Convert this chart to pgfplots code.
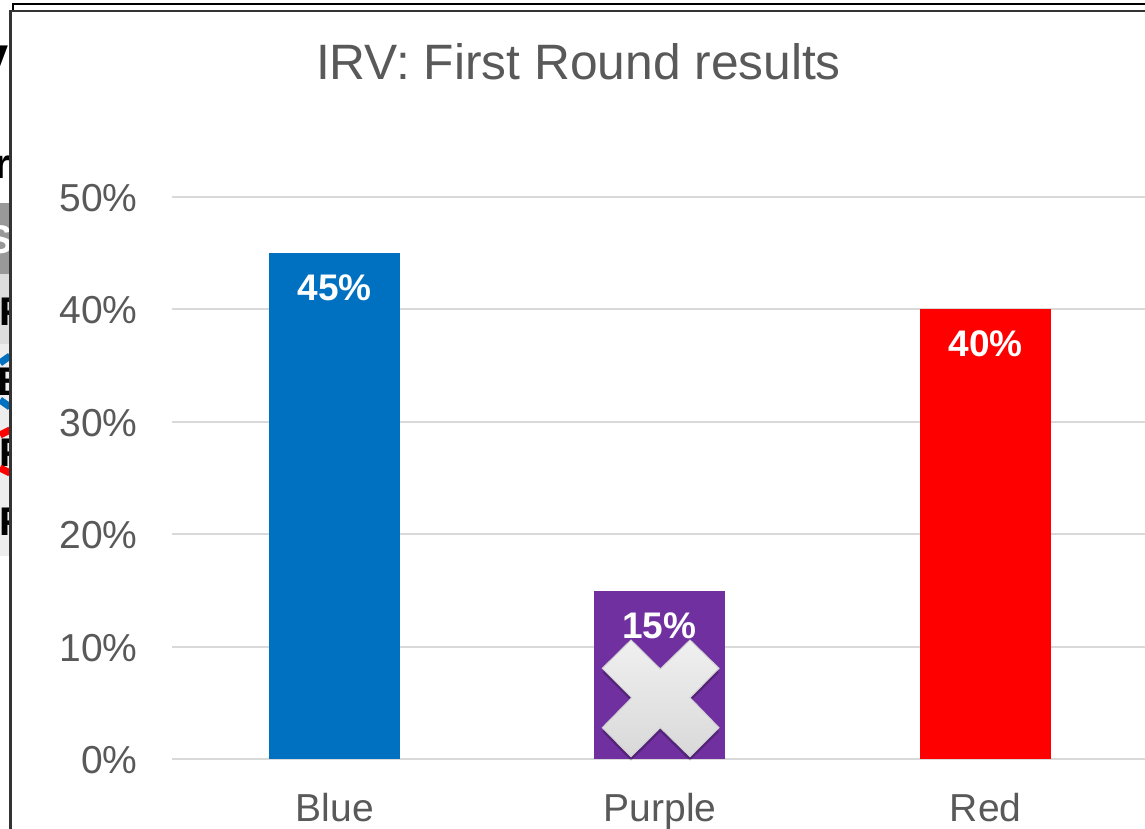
\documentclass[border=0pt]{standalone}
\usepackage{pgfplots}
\pgfplotsset{compat=1.18}
\usepackage{fontspec}
\setmainfont{Liberation Sans}
\definecolor{txt}{HTML}{595959}
\definecolor{gridc}{HTML}{D9D9D9}
\definecolor{bblue}{HTML}{0070C0}
\definecolor{bpurple}{HTML}{7030A0}
\definecolor{bred}{HTML}{FF0000}
\begin{document}
\begin{tikzpicture}[x=1pt,y=1pt]
\useasboundingbox (0,0) rectangle (1145,829);
\clip (0,0) rectangle (1145,829);
% slide fragments behind the chart panel (y measured from top: 829-y)
\begin{scope}
\clip (0,0) rectangle (10,829);
\fill[white] (0,0) rectangle (10,829);
\fill[black!40] (0,829-203) rectangle (10,829-274);
\fill[gridc!90!white] (0,829-274) rectangle (10,829-344);
\fill[black!7] (0,829-344) rectangle (10,829-556);
\node[text=white,font=\bfseries\fontsize{40}{40}\selectfont,anchor=base west,inner sep=0pt] at (-14,829-254) {S};
\node[font=\bfseries\fontsize{40}{40}\selectfont,anchor=base west,inner sep=0pt] at (-1,829-326) {F};
\node[font=\bfseries\fontsize{40}{40}\selectfont,anchor=base west,inner sep=0pt] at (-3,829-396) {B};
\node[font=\bfseries\fontsize{40}{40}\selectfont,anchor=base west,inner sep=0pt] at (-1,829-467) {F};
\node[font=\bfseries\fontsize{40}{40}\selectfont,anchor=base west,inner sep=0pt] at (-1,829-536) {F};
\draw[bblue,line width=7pt] (10,829-356) -- (0,829-363);
\draw[bblue,line width=7pt] (0,829-400) -- (10,829-407);
\draw[bred,line width=7pt] (10,829-430) -- (0,829-435);
\draw[bred,line width=7pt] (0,829-468) -- (10,829-473);
\node[font=\bfseries\fontsize{56}{56}\selectfont,anchor=base east,inner sep=0pt] at (9,829-76) {y};
\node[font=\bfseries\fontsize{42}{42}\selectfont,anchor=base east,inner sep=0pt] at (11,829-179) {r};
\end{scope}
% panel frames
\draw[black,line width=2.6pt] (13,829-11) -- (13,829-4) -- (1145,829-4);
\fill[white] (10.5,0) rectangle (1145,829-11);
\draw[black!80,line width=2.6pt] (10.5,0) -- (10.5,829-11) -- (1145,829-11);
\begin{axis}[
  at={(172pt,69.5pt)},anchor=south west,
  scale only axis,width=976.5pt,height=562.5pt,
  xmin=-0.5,xmax=2.5,ymin=0,ymax=50,
  axis line style={draw=none},
  ytick={0,10,20,30,40,50},
  yticklabels={0\%,10\%,20\%,30\%,40\%,50\%},
  xtick={0,1,2},xticklabels={Blue,Purple,Red},
  ymajorgrids,grid style={gridc,line width=2pt},
  major tick length=0pt,
  tick label style={text=txt,font=\fontsize{39}{39}\selectfont},
  yticklabel style={xshift=-31pt,yshift=-1pt},
  xticklabel style={yshift=-30pt,text height=28pt},
  clip=false,
  ybar,bar width=131pt,bar shift=0pt,
  /pgf/number format/assume math mode=true,
  nodes near coords={\pgfmathprintnumber{\pgfplotspointmeta}\%},
  every node near coord/.append style={anchor=north,yshift=-18pt,text=white,font=\bfseries\fontsize{37}{37}\selectfont},
]
\addplot[fill=bblue,draw=none] coordinates {(0,45)};
\addplot[fill=bpurple,draw=none] coordinates {(0.997,15)};
\addplot[fill=bred,draw=none] coordinates {(2,40)};
\end{axis}
% decorative cross over the purple bar
\def\crosspath{(631,829-640) -- (660.3,829-669) -- (690,829-640) -- (719,829-668.3) -- (690,829-697.7) -- (719,829-727.7) -- (690,829-756.7) -- (660.3,829-727.7) -- (631,829-756.7) -- (602.3,829-727.7) -- (631.7,829-697.7) -- (602.3,829-668.3) -- cycle}
\fill[black,opacity=.25,yshift=-4pt] \crosspath;
\shade[top color=black!6,bottom color=black!15,draw=black!18,line width=1pt] \crosspath;
% title
\node[text=txt,font=\fontsize{49.7}{49.7}\selectfont,anchor=base] at (578.5,829-79.5) {IRV: First Round results};
\end{tikzpicture}
\end{document}
